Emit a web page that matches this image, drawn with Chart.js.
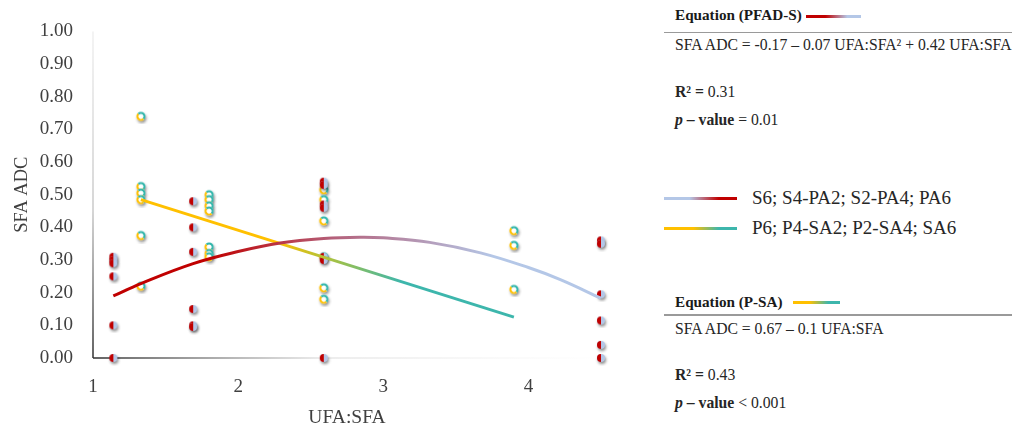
<!DOCTYPE html>
<html lang="en">
<head>
  <meta charset="UTF-8">
  <title>SFA ADC vs UFA:SFA</title>
  <style>
    body {
      margin: 0;
      padding: 0;
      background: #fff;
      width: 1012px;
      height: 430px;
      overflow: hidden;
      position: relative;
      font-family: 'Liberation Serif', serif;
      color: #262626;
    }

    .chart-box {
      position: absolute;
      left: 0;
      top: 0;
      width: 640px;
      height: 430px;
    }

    .txt {
      position: absolute;
      left: 675px;
      height: 20px;
      line-height: 20px;
      font-size: 15.7px;
      white-space: nowrap;
    }

    .head {
      font-weight: bold;
      font-size: 15.2px;
      color: #1a1a1a;
    }

    .rule {
      position: absolute;
      left: 664px;
      width: 348px;
      background: #9a9a9a;
    }

    .swatch {
      position: absolute;
      height: 3px;
    }

    .pfad-eq { background: linear-gradient(to right, #c00000 0%, #c00000 35%, #b4c7e7 75%, #b4c7e7 100%); }
    .psa-eq { background: linear-gradient(to right, #ffc000 0%, #ffc000 35%, #3db6ac 75%, #3db6ac 100%); }
    .pfad-leg { background: linear-gradient(to right, #b4c7e7 0%, #b4c7e7 35%, #c00000 75%, #c00000 100%); }
    .psa-leg { background: linear-gradient(to right, #ffc000 0%, #ffc000 40%, #3db6ac 75%, #3db6ac 100%); }

    .leg {
      position: absolute;
      left: 752px;
      height: 24px;
      line-height: 24px;
      font-size: 19px;
      white-space: nowrap;
      color: #262626;
    }
  </style>
  <script src="https://cdn.jsdelivr.net/npm/chart.js"></script>
</head>
<body>

  <div class="chart-box">
    <canvas id="adcChart"></canvas>
  </div>

  <!-- Equation PFAD-S -->
  <div class="txt head" style="top:5px">Equation (PFAD-S)</div>
  <div class="swatch pfad-eq" style="left:806px; top:15px; width:55px;"></div>
  <div class="rule" style="top:32px; height:1px;"></div>
  <div class="txt" style="top:35px">SFA ADC = -0.17 – 0.07 UFA:SFA² + 0.42 UFA:SFA</div>
  <div class="txt" style="top:82px"><b>R² =</b> 0.31</div>
  <div class="txt" style="top:110px"><b><i>p</i> – value</b> = 0.01</div>

  <!-- Legend -->
  <div class="swatch pfad-leg" style="left:664px; top:197px; width:73px;"></div>
  <div class="leg" style="top:186px">S6; S4-PA2; S2-PA4; PA6</div>
  <div class="swatch psa-leg" style="left:664px; top:227px; width:73px;"></div>
  <div class="leg" style="top:216px">P6; P4-SA2; P2-SA4; SA6</div>

  <!-- Equation P-SA -->
  <div class="txt head" style="top:292px">Equation (P-SA)</div>
  <div class="swatch psa-eq" style="left:793px; top:301px; width:47px;"></div>
  <div class="rule" style="top:314px; height:2px;"></div>
  <div class="txt" style="top:319px">SFA ADC = 0.67 – 0.1 UFA:SFA</div>
  <div class="txt" style="top:365px"><b>R² =</b> 0.43</div>
  <div class="txt" style="top:393px"><b><i>p</i> – value</b> &lt; 0.001</div>

  <script>
    // observed points, PFAD-S diets
    const pfadX = [1.14, 1.14, 1.14, 1.14, 1.14, 1.14,
                   1.69, 1.69, 1.69, 1.69, 1.69, 1.69,
                   2.59, 2.59, 2.59, 2.59, 2.59, 2.59, 2.59,
                   4.5, 4.5, 4.5, 4.5, 4.5, 4.5];
    const pfadY = [0.31, 0.30, 0.29, 0.25, 0.10, 0.00,
                   0.48, 0.40, 0.325, 0.15, 0.10, 0.095,
                   0.54, 0.53, 0.47, 0.46, 0.31, 0.30, 0.00,
                   0.36, 0.35, 0.195, 0.115, 0.04, 0.00];

    // observed points, P-SA diets
    const psaX = [1.33, 1.33, 1.33, 1.33, 1.33, 1.33,
                  1.8, 1.8, 1.8, 1.8, 1.8, 1.8, 1.8,
                  2.59, 2.59, 2.59, 2.59, 2.59, 2.59,
                  3.9, 3.9, 3.9];
    const psaY = [0.74, 0.525, 0.505, 0.485, 0.375, 0.22,
                  0.50, 0.485, 0.466, 0.45, 0.34, 0.32, 0.31,
                  0.515, 0.485, 0.42, 0.31, 0.215, 0.18,
                  0.39, 0.345, 0.21];

    // fitted curves
    const pfadFitX = [1.14, 1.33, 1.69, 2.0, 2.29, 2.59, 2.84, 3.0, 3.32, 3.67, 4.0, 4.22, 4.5];
    const pfadFitY = [0.19, 0.228, 0.289, 0.326, 0.352, 0.366, 0.37, 0.368, 0.354, 0.322, 0.277, 0.24, 0.183];
    const psaFitX = [1.33, 3.9];
    const psaFitY = [0.485, 0.125];

    const yTicks = [0, 0.1, 0.2, 0.3, 0.4, 0.5, 0.6, 0.7, 0.8, 0.9, 1.0];
    const xTicks = [1, 2, 3, 4];

    const toPoints = (xs, ys) => xs.map((x, i) => ({ x: x, y: ys[i] }));

    // marker images: half red / half light blue dot, and yellow / teal ring
    function makeDot() {
      const c = document.createElement('canvas');
      c.width = 16; c.height = 16;
      const g = c.getContext('2d');
      g.shadowColor = 'rgba(0,0,0,0.45)';
      g.shadowBlur = 3;
      g.shadowOffsetX = 1;
      g.shadowOffsetY = 2;
      g.beginPath(); g.arc(8, 8, 4, 0, Math.PI * 2); g.fillStyle = '#b4c7e7'; g.fill();
      g.shadowColor = 'transparent';
      g.beginPath(); g.arc(8, 8, 4, Math.PI / 2, Math.PI * 1.5); g.closePath();
      g.fillStyle = '#c00000'; g.fill();
      return c;
    }

    function makeRing() {
      const c = document.createElement('canvas');
      c.width = 16; c.height = 16;
      const g = c.getContext('2d');
      g.shadowColor = 'rgba(0,0,0,0.45)';
      g.shadowBlur = 3;
      g.shadowOffsetX = 1;
      g.shadowOffsetY = 2;
      g.beginPath(); g.arc(8, 8, 4.5, 0, Math.PI * 2); g.fillStyle = '#fff'; g.fill();
      g.shadowColor = 'transparent';
      g.lineWidth = 2;
      g.beginPath(); g.arc(8, 8, 3.6, Math.PI / 4, Math.PI * 1.25); g.strokeStyle = '#ffc000'; g.stroke();
      g.beginPath(); g.arc(8, 8, 3.6, Math.PI * 1.25, Math.PI * 2.25); g.strokeStyle = '#2fb5aa'; g.stroke();
      return c;
    }

    function lineGradient(context, xs, stops) {
      const chart = context.chart;
      if (!chart.chartArea) return stops[0][1];
      const sx = chart.scales.x;
      const x0 = sx.getPixelForValue(xs[0]);
      const x1 = sx.getPixelForValue(xs[xs.length - 1]);
      const grad = chart.ctx.createLinearGradient(x0, 0, x1, 0);
      stops.forEach(s => grad.addColorStop(s[0], s[1]));
      return grad;
    }

    // axis lines that fade out, like the original
    const fadedAxes = {
      id: 'fadedAxes',
      beforeDatasetsDraw(chart) {
        const { ctx, chartArea } = chart;
        const { left, right, top, bottom } = chartArea;
        ctx.save();
        ctx.lineWidth = 1.5;
        let g = ctx.createLinearGradient(0, top, 0, bottom);
        g.addColorStop(0, '#f0f0f0');
        g.addColorStop(0.55, '#c8c8c8');
        g.addColorStop(1, '#303030');
        ctx.strokeStyle = g;
        ctx.beginPath(); ctx.moveTo(left, top); ctx.lineTo(left, bottom); ctx.stroke();
        g = ctx.createLinearGradient(left, 0, right, 0);
        g.addColorStop(0, '#303030');
        g.addColorStop(0.45, '#e6e6e6');
        g.addColorStop(0.8, '#f8f8f8');
        g.addColorStop(1, '#ffffff');
        ctx.strokeStyle = g;
        ctx.beginPath(); ctx.moveTo(left, bottom); ctx.lineTo(right, bottom); ctx.stroke();
        ctx.restore();
      }
    };

    const ctx = document.getElementById('adcChart').getContext('2d');
    const adcChart = new Chart(ctx, {
      type: 'scatter',
      data: {
        datasets: [
          {
            label: 'PFAD-S fit',
            type: 'line',
            data: toPoints(pfadFitX, pfadFitY),
            borderColor: c => lineGradient(c, pfadFitX, [[0, '#c00000'], [0.2, '#c00000'], [0.45, '#b4607a'], [0.78, '#b4c7e7'], [1, '#b4c7e7']]),
            borderWidth: 3,
            pointRadius: 0,
            tension: 0.4,
            fill: false,
            clip: false,
            order: 1
          },
          {
            label: 'P-SA fit',
            type: 'line',
            data: toPoints(psaFitX, psaFitY),
            borderColor: c => lineGradient(c, psaFitX, [[0, '#ffc000'], [0.36, '#ffc000'], [0.5, '#aec23c'], [0.7, '#3db6ac'], [1, '#3db6ac']]),
            borderWidth: 3,
            pointRadius: 0,
            fill: false,
            clip: false,
            order: 2
          },
          {
            label: 'S6; S4-PA2; S2-PA4; PA6',
            data: toPoints(pfadX, pfadY),
            pointStyle: makeDot(),
            pointRadius: 5,
            clip: false,
            order: 3
          },
          {
            label: 'P6; P4-SA2; P2-SA4; SA6',
            data: toPoints(psaX, psaY),
            pointStyle: makeRing(),
            pointRadius: 5,
            clip: false,
            order: 4
          }
        ]
      },
      options: {
        responsive: true,
        maintainAspectRatio: false,
        animation: false,
        devicePixelRatio: 1,
        layout: { padding: { left: 0, right: 39, top: 25, bottom: 0 } },
        plugins: {
          legend: { display: false },
          tooltip: { enabled: false }
        },
        scales: {
          x: {
            type: 'linear',
            min: 1,
            max: 4.5,
            grid: { display: false, drawTicks: false },
            border: { display: false },
            afterBuildTicks: scale => { scale.ticks = xTicks.map(v => ({ value: v })); },
            afterFit: scale => { scale.height = 72; },
            ticks: {
              padding: 18,
              color: '#404040',
              font: { family: 'Liberation Serif', size: 19 }
            },
            title: {
              display: true,
              text: 'UFA:SFA',
              color: '#404040',
              padding: { top: 0, bottom: 0 },
              font: { family: 'Liberation Serif', size: 19.5 }
            }
          },
          y: {
            min: 0,
            max: 1,
            grid: { display: false, drawTicks: false },
            border: { display: false },
            afterBuildTicks: scale => { scale.ticks = yTicks.map(v => ({ value: v })); },
            afterFit: scale => { scale.width = 93; },
            ticks: {
              padding: 20,
              color: '#404040',
              font: { family: 'Liberation Serif', size: 19 },
              callback: v => v.toFixed(2)
            },
            title: {
              display: true,
              text: 'SFA ADC',
              color: '#404040',
              padding: { top: 11, bottom: 0 },
              font: { family: 'Liberation Serif', size: 18.5 }
            }
          }
        }
      },
      plugins: [fadedAxes]
    });
  </script>
</body>
</html>
